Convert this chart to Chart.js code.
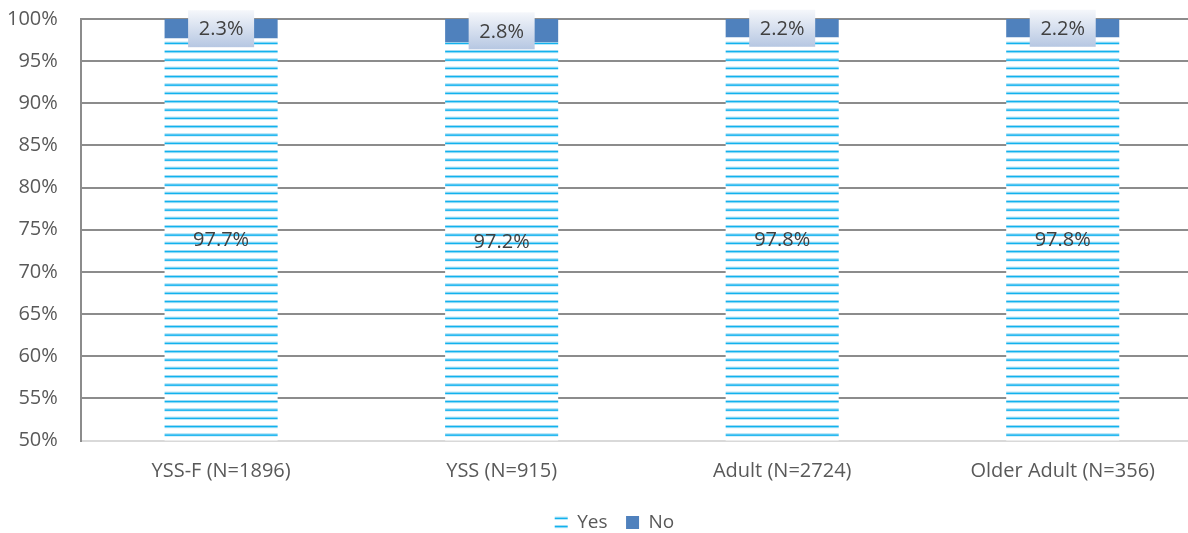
<!DOCTYPE html>
<html>
<head>
<meta charset="utf-8">
<script src="https://cdn.jsdelivr.net/npm/chart.js@4"></script>
<style>
  html, body { margin: 0; padding: 0; background: #fff; overflow: hidden; }
  #wrap { width: 1229px; height: 533px; }
</style>
</head>
<body>
<div id="wrap"><canvas id="myChart"></canvas></div>
<script>
// Données
const groups = ['YSS-F (N=1896)', 'YSS (N=915)', 'Adult (N=2724)', 'Older Adult (N=356)'];
const yesValues = [97.7, 97.2, 97.8, 97.8];
const noValues = [2.3, 2.8, 2.2, 2.2];
const yTicks = [50, 55, 60, 65, 70, 75, 80, 85, 90, 95, 100];

const FONT = '"Open Sans", sans-serif';

// Motif à rayures horizontales pour la série "Yes"
function makeStripes() {
    const c = document.createElement('canvas');
    c.width = 8;
    c.height = 25;
    const g = c.getContext('2d');
    g.fillStyle = '#ffffff';
    g.fillRect(0, 0, 8, 25);
    for (let k = 0; k < 3; k++) {
        const y = k * 25 / 3;
        g.fillStyle = '#9fdcf4';
        g.fillRect(0, y, 8, 1);
        g.fillStyle = '#12b2ee';
        g.fillRect(0, y + 1, 8, 1.6);
        g.fillStyle = '#b8e6f8';
        g.fillRect(0, y + 2.6, 8, 0.6);
    }
    return g.createPattern(c, 'repeat');
}

const stripes = makeStripes();

// Étiquettes de valeur sur les barres
const valueLabels = {
    id: 'valueLabels',
    afterDatasetsDraw(chart) {
        const ctx = chart.ctx;
        const area = chart.chartArea;
        ctx.save();
        ctx.font = '20px ' + FONT;
        ctx.textAlign = 'center';
        ctx.textBaseline = 'middle';
        chart.data.datasets.forEach((ds, di) => {
            const meta = chart.getDatasetMeta(di);
            meta.data.forEach((bar, i) => {
                const top = Math.max(bar.y, area.top);
                const bottom = Math.min(bar.base, area.bottom);
                const cy = (top + bottom) / 2;
                const txt = ds.data[i].toFixed(1) + '%';
                if (di === 1) {
                    const w = 66, h = 37;
                    const grad = ctx.createLinearGradient(0, cy - h / 2, 0, cy + h / 2);
                    grad.addColorStop(0, '#f5f7fb');
                    grad.addColorStop(1, '#b6c7e2');
                    ctx.fillStyle = grad;
                    ctx.fillRect(bar.x - w / 2, cy - h / 2, w, h);
                }
                ctx.fillStyle = '#404040';
                ctx.fillText(txt, bar.x, cy + 1);
            });
        });
        ctx.restore();
    }
};

// Décale la légende vers la droite
const legendShift = {
    id: 'legendShift',
    afterLayout(chart) {
        chart.legend.left += 21;
        chart.legend.right += 21;
    }
};

const ctx = document.getElementById('myChart').getContext('2d');
const myChart = new Chart(ctx, {
    type: 'bar',
    data: {
        labels: groups,
        datasets: [
            {
                label: 'Yes',
                data: yesValues,
                backgroundColor: stripes,
                borderWidth: 0,
                barPercentage: 0.806,
                categoryPercentage: 0.5,
            },
            {
                label: 'No',
                data: noValues,
                backgroundColor: '#4f81bd',
                borderWidth: 0,
                barPercentage: 0.806,
                categoryPercentage: 0.5,
            },
        ],
    },
    options: {
        responsive: true,
        maintainAspectRatio: false,
        animation: false,
        layout: { padding: { top: 0, right: 26, left: -16, bottom: -9 } },
        plugins: {
            legend: {
                position: 'bottom',
                labels: {
                    font: { family: FONT, size: 19 },
                    color: '#595959',
                    boxWidth: 13,
                    boxHeight: 13,
                    padding: 18.5,
                },
            },
            tooltip: { enabled: false },
        },
        scales: {
            x: {
                stacked: true,
                grid: { display: false },
                border: { color: '#d9d9d9', width: 2 },
                ticks: {
                    font: { family: FONT, size: 20 },
                    color: '#595959',
                    padding: 11,
                },
            },
            y: {
                stacked: true,
                min: 50,
                max: 100,
                afterBuildTicks: (axis) => {
                    axis.ticks = yTicks.map(v => ({ value: v }));
                },
                // marge haute fixe au-dessus de 100%
                afterFit: (axis) => {
                    axis.paddingTop = 19;
                },
                grid: {
                    color: (c) => c.tick && c.tick.value === 50 ? 'rgba(0,0,0,0)' : '#8c8c8c',
                    lineWidth: 2,
                    drawTicks: false,
                },
                border: { color: '#8c8c8c', width: 2 },
                ticks: {
                    font: { family: FONT, size: 20 },
                    color: '#595959',
                    padding: 23,
                    callback: (v) => v + '%',
                },
            },
        },
    },
    plugins: [valueLabels, legendShift],
});
</script>
</body>
</html>
